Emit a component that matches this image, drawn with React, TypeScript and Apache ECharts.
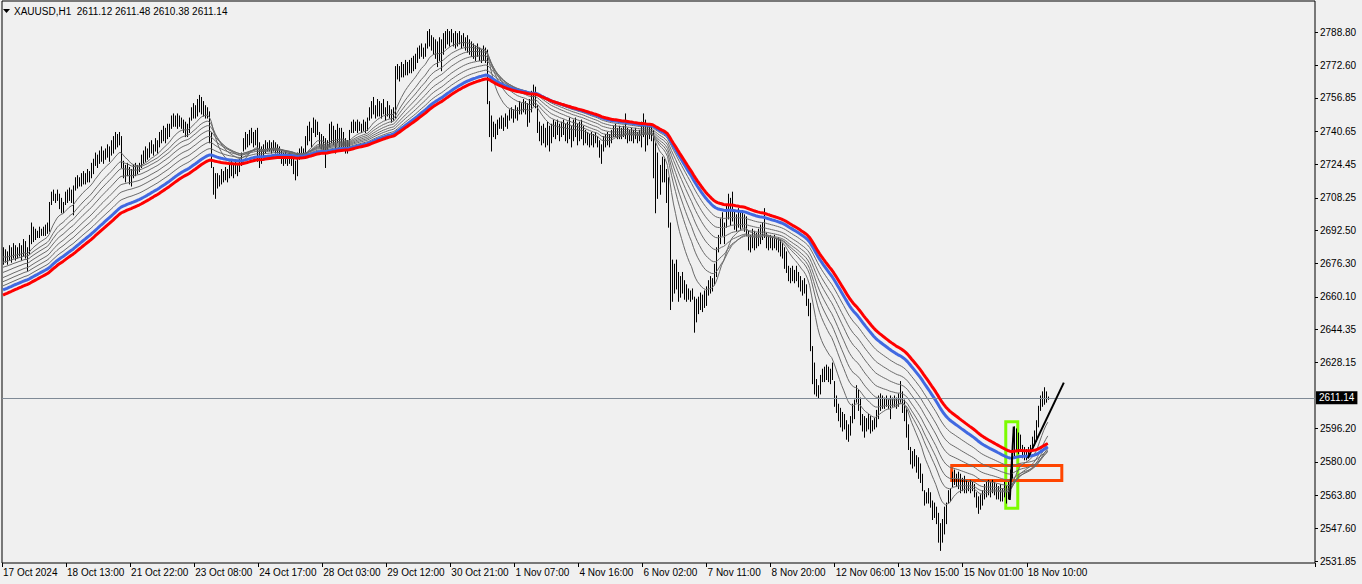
import React, { useEffect, useRef } from "react";
import * as echarts from "echarts";

// ---- data ----
const highs: number[] = [
  2684,2683,2682,2685,2684,2686,2685,2684,2686,2685,
  2688,2687,2684,2690,2696,2694,2693,2692,2694,2693,
  2694,2695,2696,2706,2711,2712,2710,2712,2710,2708,
  2706,2711,2712,2713,2712,2714,2718,2719,2718,2720,
  2721,2720,2722,2721,2725,2727,2730,2729,2731,2733,
  2731,2732,2734,2733,2736,2738,2740,2739,2740,2738,
  2726,2724,2725,2723,2722,2724,2725,2724,2725,2729,
  2731,2733,2732,2735,2736,2734,2737,2736,2740,2741,
  2743,2742,2744,2744,2748,2749,2748,2749,2748,2747,
  2746,2745,2744,2747,2752,2754,2753,2756,2758,2757,
  2755,2753,2752,2750,2740,2723,2720,2720,2719,2722,
  2721,2723,2722,2724,2726,2725,2726,2724,2727,2730,
  2737,2740,2739,2741,2742,2740,2741,2742,2735,2733,
  2734,2736,2735,2736,2735,2736,2735,2734,2733,2731,
  2730,2731,2729,2730,2729,2728,2726,2730,2732,2733,
  2732,2738,2743,2745,2742,2747,2746,2745,2740,2739,
  2738,2737,2736,2744,2745,2743,2741,2744,2742,2742,
  2740,2737,2736,2741,2745,2746,2745,2746,2745,2744,
  2746,2745,2747,2752,2755,2757,2753,2756,2755,2754,
  2756,2752,2755,2753,2751,2752,2772,2773,2772,2774,
  2773,2775,2774,2775,2776,2777,2778,2781,2782,2783,
  2781,2783,2789,2790,2787,2786,2785,2784,2786,2785,
  2788,2789,2790,2789,2790,2788,2789,2788,2789,2787,
  2788,2786,2787,2785,2784,2783,2782,2783,2781,2780,
  2782,2781,2780,2755,2748,2745,2744,2746,2747,2748,
  2747,2749,2748,2751,2752,2751,2753,2752,2755,2754,
  2756,2755,2754,2756,2760,2763,2762,2753,2745,2743,
  2744,2742,2745,2743,2744,2746,2745,2746,2744,2745,
  2746,2744,2745,2747,2743,2746,2747,2744,2745,2746,
  2743,2741,2740,2739,2740,2739,2740,2738,2736,2734,
  2738,2739,2740,2739,2741,2743,2744,2742,2743,2742,
  2743,2749,2742,2741,2742,2741,2742,2740,2741,2745,
  2749,2746,2744,2744,2743,2741,2735,2730,2724,2728,
  2727,2722,2718,2696,2678,2676,2678,2672,2670,2672,
  2668,2666,2664,2663,2664,2660,2659,2660,2662,2661,
  2663,2665,2668,2670,2669,2676,2684,2690,2698,2701,
  2696,2705,2710,2708,2711,2702,2700,2703,2701,2702,
  2700,2699,2692,2690,2693,2692,2691,2693,2695,2696,
  2703,2691,2690,2690,2689,2690,2688,2689,2688,2686,
  2684,2682,2675,2674,2675,2673,2675,2672,2670,2668,
  2669,2666,2659,2657,2636,2628,2620,2617,2622,2625,
  2626,2627,2626,2625,2628,2619,2612,2608,2606,2604,
  2603,2600,2598,2602,2608,2610,2617,2615,2611,2603,
  2602,2601,2603,2602,2600,2601,2605,2612,2613,2612,
  2611,2612,2610,2612,2611,2612,2611,2613,2619,2614,
  2610,2606,2598,2587,2585,2586,2583,2582,2579,2574,
  2566,2565,2567,2565,2561,2560,2558,2555,2550,2552,
  2558,2560,2566,2567,2575,2576,2574,2575,2574,2572,
  2573,2571,2570,2571,2570,2569,2565,2563,2564,2566,
  2569,2570,2571,2570,2571,2570,2569,2568,2569,2567,
  2570,2568,2570,2576,2588,2597,2596,2594,2593,2588,
  2587,2586,2587,2588,2592,2595,2600,2607,2612,2614,
  2616,2614,2611.48,
];
const lows: number[] = [
  2676,2677,2676,2678,2677,2679,2678,2679,2680,2678,
  2680,2679,2673,2681,2686,2687,2688,2689,2689,2690,
  2690,2690,2691,2692,2705,2707,2706,2707,2703,2701,
  2701,2705,2706,2707,2706,2700,2712,2713,2714,2714,
  2715,2715,2716,2716,2718,2720,2724,2723,2725,2726,
  2725,2727,2728,2726,2729,2730,2732,2733,2734,2723,
  2718,2716,2719,2715,2714,2718,2719,2720,2721,2723,
  2725,2726,2727,2728,2730,2729,2731,2730,2733,2735,
  2736,2735,2737,2738,2742,2743,2743,2742,2743,2742,
  2740,2738,2738,2740,2746,2747,2747,2748,2750,2749,
  2748,2747,2747,2735,2723,2710,2708,2713,2714,2715,
  2716,2717,2716,2718,2719,2718,2720,2719,2721,2724,
  2731,2732,2733,2734,2735,2733,2734,2726,2723,2725,
  2728,2730,2731,2731,2730,2731,2730,2730,2729,2725,
  2724,2725,2724,2725,2724,2720,2717,2719,2727,2729,
  2728,2730,2734,2736,2733,2740,2738,2739,2733,2732,
  2731,2723,2730,2733,2735,2734,2730,2735,2733,2733,
  2732,2730,2730,2733,2740,2740,2741,2740,2741,2740,
  2741,2740,2741,2746,2747,2749,2747,2748,2748,2747,
  2749,2746,2748,2747,2745,2746,2747,2766,2765,2767,
  2767,2768,2768,2769,2769,2770,2771,2774,2776,2777,
  2776,2777,2781,2782,2780,2778,2776,2772,2775,2770,
  2778,2781,2783,2782,2784,2782,2781,2782,2783,2781,
  2782,2780,2779,2778,2777,2776,2775,2777,2775,2774,
  2775,2774,2754,2738,2731,2738,2737,2739,2742,2742,
  2741,2743,2742,2746,2747,2745,2747,2746,2749,2749,
  2750,2749,2743,2745,2750,2753,2752,2740,2736,2734,
  2735,2733,2734,2731,2735,2738,2737,2739,2736,2738,
  2739,2736,2735,2737,2733,2736,2738,2734,2736,2737,
  2734,2735,2734,2733,2734,2733,2735,2733,2728,2725,
  2731,2733,2734,2733,2735,2738,2738,2737,2737,2737,
  2738,2737,2735,2736,2736,2735,2737,2735,2736,2733,
  2738,2731,2734,2737,2736,2718,2701,2708,2710,2716,
  2716,2706,2694,2654,2658,2662,2664,2658,2660,2662,
  2659,2658,2659,2658,2659,2643,2648,2652,2654,2653,
  2655,2656,2661,2662,2663,2666,2670,2682,2686,2690,
  2686,2694,2698,2695,2697,2693,2692,2694,2693,2694,
  2692,2690,2683,2682,2684,2683,2684,2685,2686,2688,
  2689,2684,2683,2684,2683,2684,2683,2682,2680,2679,
  2674,2672,2668,2667,2668,2667,2668,2665,2663,2661,
  2662,2656,2651,2634,2618,2613,2612,2611,2613,2619,
  2619,2620,2619,2618,2620,2607,2604,2600,2597,2595,
  2596,2591,2590,2593,2599,2601,2609,2605,2598,2595,
  2592,2595,2596,2594,2595,2596,2597,2601,2605,2606,
  2606,2607,2606,2601,2607,2607,2606,2607,2609,2604,
  2600,2592,2586,2579,2577,2578,2575,2572,2570,2566,
  2559,2560,2560,2558,2552,2553,2550,2541,2537,2541,
  2545,2550,2560,2561,2568,2569,2568,2567,2565,2566,
  2565,2565,2566,2565,2566,2563,2558,2555,2557,2559,
  2562,2563,2564,2563,2565,2564,2562,2562,2561,2561,
  2563,2560,2562,2566,2572,2582,2585,2584,2586,2582,
  2581,2581,2582,2583,2586,2588,2590,2597,2605,2607,
  2608,2609,2610.38,
];
const timeLabels = [
  "17 Oct 2024", "18 Oct 13:00", "21 Oct 22:00", "23 Oct 08:00", "24 Oct 17:00",
  "28 Oct 03:00", "29 Oct 12:00", "30 Oct 21:00", "1 Nov 07:00", "4 Nov 16:00",
  "6 Nov 02:00", "7 Nov 11:00", "8 Nov 20:00", "12 Nov 06:00", "13 Nov 15:00",
  "15 Nov 01:00", "18 Nov 10:00",
];
const priceTicks = [
  2531.85, 2547.6, 2563.8, 2580.0, 2596.2, 2628.15, 2644.35, 2660.1,
  2676.3, 2692.5, 2708.25, 2724.45, 2740.65, 2756.85, 2772.6, 2788.8,
];
const lastPrice = 2611.14;
const headerText = "XAUUSD,H1  2611.12 2611.48 2610.38 2611.14";
const thinPeriods = [14, 23, 30, 38, 47, 56, 66];
const thinStart = [2679.5, 2677, 2674.5, 2672, 2669.5, 2667.5, 2665.5];
const bluePeriod = 76;
const blueStart = 2663.5;
const redPeriod = 84;
const redStart = 2661;
const greenBox = [[501, 2599.5], [507, 2557.5]];
const orangeBox = [[474, 2578.2], [529, 2570.9]];
const trendLine = [[512, 2581.7], [530, 2618.5]];
const impulseLine = [[503, 2561.5], [505, 2597.1]];

const SLOTS = 656;
const LABEL_STEP = 32;
const FONT = "'Liberation Sans', Arial, sans-serif";

function ema(period: number, start: number): number[] {
  const a = 2 / (period + 1);
  const out: number[] = [];
  let v = start;
  for (let i = 0; i < highs.length; i++) {
    if (i > 0) v = v + a * ((highs[i] + lows[i]) / 2 - v);
    out.push(+v.toFixed(2));
  }
  return out;
}

export default function App() {
  const ref = useRef<HTMLDivElement>(null);
  useEffect(() => {
    document.body.style.margin = "0";
    const chart = echarts.init(ref.current!, null, { renderer: "svg" });
    const categories = Array.from({ length: SLOTS }, (_, i) => String(i));
    const barData = highs.map((h, i) => [i, lows[i], h]);

    const thinSeries = thinPeriods.map((p, k) => ({
      type: "line",
      data: ema(p, thinStart[k]),
      showSymbol: false,
      silent: true,
      z: 3,
      lineStyle: { color: "#696969", width: 1 },
    }));

    const option: any = {
      animation: false,
      backgroundColor: "#f0f0f0",
      grid: {
        left: 2, right: 47, top: 1, bottom: 21,
        show: true, borderColor: "#000", borderWidth: 1, backgroundColor: "transparent",
      },
      graphic: [
        { type: "polygon", shape: { points: [[3, 9], [10, 9], [6.5, 13]] }, style: { fill: "#000" }, z: 20 },
        {
          type: "text", x: 14, y: 11, z: 20,
          style: { text: headerText, fill: "#000", font: `10px ${FONT}`, verticalAlign: "middle" },
        },
      ],
      xAxis: {
        type: "category",
        data: categories,
        boundaryGap: true,
        axisLine: { show: false },
        axisTick: {
          show: true,
          length: 4,
          interval: (i: number) => i % LABEL_STEP === 0 && i / LABEL_STEP < timeLabels.length,
          lineStyle: { color: "#000" },
        },
        axisLabel: {
          interval: (i: number) => i % LABEL_STEP === 0 && i / LABEL_STEP < timeLabels.length,
          formatter: (_v: string, i: number) => timeLabels[i / LABEL_STEP] ?? "",
          align: "left",
          margin: 4,
          color: "#000",
          fontFamily: FONT,
          fontSize: 10,
        },
        splitLine: { show: false },
      },
      yAxis: {
        type: "value",
        position: "right",
        min: 2530.88,
        max: 2803.86,
        axisLine: { show: false },
        axisTick: { show: true, customValues: priceTicks, length: 3, lineStyle: { color: "#000" } },
        axisLabel: {
          customValues: priceTicks,
          formatter: (v: number) => v.toFixed(2),
          color: "#000",
          fontFamily: FONT,
          fontSize: 10,
          margin: 5,
        },
        splitLine: { show: false },
      },
      series: [
        {
          type: "custom",
          data: barData,
          encode: { x: 0, y: [1, 2] },
          silent: true,
          z: 2,
          renderItem: (_p: any, api: any) => {
            const a = api.coord([api.value(0), api.value(1)]);
            const b = api.coord([api.value(0), api.value(2)]);
            const px = Math.round(a[0]) + 0.5;
            return {
              type: "line",
              shape: { x1: px, y1: a[1] + 0.5, x2: px, y2: b[1] - 0.5 },
              style: { stroke: "#000", lineWidth: 1 },
            };
          },
          markLine: {
            silent: true,
            symbol: "none",
            lineStyle: { color: "#7f8a96", width: 1, type: "solid" },
            label: {
              show: true,
              position: "end",
              formatter: lastPrice.toFixed(2),
              backgroundColor: "#000",
              color: "#fff",
              padding: [2, 3, 1, 3],
              distance: 1,
              fontFamily: FONT,
              fontSize: 10,
            },
            data: [{ yAxis: lastPrice }],
          },
        },
        ...thinSeries,
        {
          type: "line", data: ema(bluePeriod, blueStart), showSymbol: false, silent: true, z: 4,
          lineStyle: { color: "#4169E1", width: 3 },
        },
        {
          type: "line", data: ema(redPeriod, redStart), showSymbol: false, silent: true, z: 5,
          lineStyle: { color: "#FF0000", width: 3 },
          markArea: {
            silent: true,
            data: [
              [
                { coord: greenBox[0], itemStyle: { color: "rgba(0,0,0,0)", borderColor: "#7CFC00", borderWidth: 3 } },
                { coord: greenBox[1] },
              ],
              [
                { coord: orangeBox[0], itemStyle: { color: "rgba(0,0,0,0)", borderColor: "#FF4500", borderWidth: 3 } },
                { coord: orangeBox[1] },
              ],
            ],
          },
          markLine: {
            silent: true,
            symbol: "none",
            label: { show: false },
            lineStyle: { color: "#000", width: 2, type: "solid" },
            data: [
              [{ coord: trendLine[0] }, { coord: trendLine[1] }],
              [{ coord: impulseLine[0] }, { coord: impulseLine[1] }],
            ],
          },
        },
      ],
    };
    chart.setOption(option);
    return () => chart.dispose();
  }, []);
  return <div ref={ref} style={{ width: 1362, height: 584, background: "#f0f0f0" }} />;
}
